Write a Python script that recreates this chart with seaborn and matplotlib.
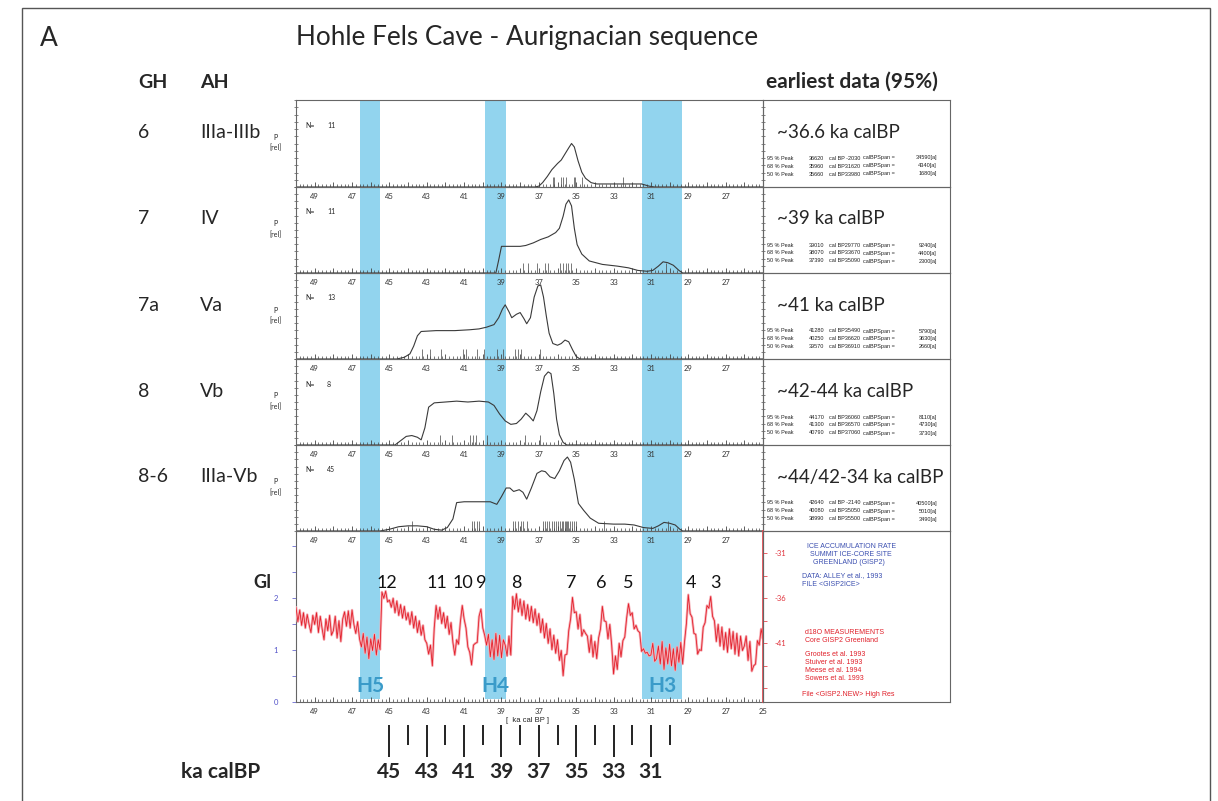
import numpy as np
import matplotlib
matplotlib.use('Agg')
import matplotlib.pyplot as plt
import seaborn as sns
from matplotlib.ticker import MultipleLocator
from matplotlib.patches import Rectangle

sns.set_theme(style='white')
plt.rcParams['font.family'] = ['Lato', 'DejaVu Sans']

W, H = 1218, 801

# ---------------------------------------------------------
# data
# ---------------------------------------------------------
gh_labels = ['6', '7', '7a', '8', '8-6']
ah_labels = ['IIIa-IIIb', 'IV', 'Va', 'Vb', 'IIIa-Vb']
earliest_labels = ['~36.6 ka calBP', '~39 ka calBP', '~41 ka calBP',
                   '~42-44 ka calBP', '~44/42-34 ka calBP']
n_dates = [11, 11, 13, 8, 45]

peak_levels = ['95 % Peak', '68 % Peak', '50 % Peak']
peak_from = [['36620', '35960', '35660'], ['39010', '38070', '37390'],
             ['41280', '40250', '39570'], ['44170', '41300', '40790'],
             ['42640', '40080', '38990']]
peak_to = [['cal BP -2030', 'cal BP31620', 'cal BP33980'],
           ['cal BP29770', 'cal BP33670', 'cal BP35090'],
           ['cal BP35490', 'cal BP36620', 'cal BP36910'],
           ['cal BP36060', 'cal BP36570', 'cal BP37060'],
           ['cal BP -2140', 'cal BP35050', 'cal BP35500']]
peak_span = [['34590[a]', '4340[a]', '1680[a]'], ['9240[a]', '4400[a]', '2300[a]'],
             ['5790[a]', '3630[a]', '2660[a]'], ['8110[a]', '4730[a]', '3730[a]'],
             ['40500[a]', '5010[a]', '3490[a]']]

# summed probability curves (ka calBP, relative P)
p1_ka = [50.0, 37.2, 37.0, 36.8, 36.55, 36.3, 36.0, 35.8, 35.6, 35.4, 35.25, 35.1,
         34.9, 34.7, 34.5, 34.2, 33.9, 31.5, 31.1, 30.8, 25.0]
p1_p = [0.0, 0.0, 0.01, 0.05, 0.12, 0.2, 0.27, 0.31, 0.38, 0.45, 0.5, 0.46,
        0.3, 0.17, 0.1, 0.05, 0.035, 0.035, 0.01, 0.0, 0.0]

p2_ka = [50.0, 39.3, 39.15, 39.0, 38.5, 38.0, 37.7, 37.3, 36.9, 36.5, 36.1, 35.9, 35.7,
         35.55, 35.4, 35.25, 35.1, 34.95, 34.7, 34.3, 33.6, 32.8, 32.2, 31.7, 31.2,
         30.9, 30.6, 30.35, 30.1, 29.8, 29.5, 29.3, 25.0]
p2_p = [0.0, 0.0, 0.15, 0.31, 0.31, 0.31, 0.32, 0.35, 0.39, 0.42, 0.47, 0.52, 0.66,
        0.8, 0.85, 0.78, 0.52, 0.33, 0.22, 0.14, 0.1, 0.08, 0.06, 0.03, 0.02,
        0.03, 0.08, 0.13, 0.12, 0.09, 0.03, 0.0, 0.0]

p3_ka = [50.0, 44.6, 44.2, 43.9, 43.7, 43.5, 43.3, 42.5, 41.5, 40.7, 40.2, 39.8, 39.4,
         39.15, 38.95, 38.8, 38.6, 38.45, 38.2, 38.0, 37.8, 37.65, 37.45, 37.25, 37.05,
         36.9, 36.75, 36.6, 36.45, 36.25, 36.0, 35.8, 35.6, 35.4, 35.2, 35.0, 34.8, 25.0]
p3_p = [0.0, 0.0, 0.02, 0.06, 0.15, 0.27, 0.32, 0.33, 0.33, 0.34, 0.35, 0.37, 0.4,
        0.48, 0.58, 0.63, 0.55, 0.48, 0.52, 0.54, 0.47, 0.41, 0.48, 0.72, 0.85,
        0.86, 0.72, 0.5, 0.3, 0.18, 0.16, 0.18, 0.22, 0.2, 0.11, 0.03, 0.0, 0.0]

p4_ka = [50.0, 44.7, 44.4, 44.1, 43.8, 43.5, 43.3, 43.1, 42.9, 42.6, 42.0, 41.4, 40.8,
         40.2, 39.7, 39.4, 39.1, 38.8, 38.5, 38.2, 37.95, 37.7, 37.5, 37.3, 37.1, 36.9,
         36.7, 36.5, 36.35, 36.2, 36.05, 35.9, 35.7, 35.5, 25.0]
p4_p = [0.0, 0.0, 0.05, 0.1, 0.11, 0.09, 0.06, 0.2, 0.44, 0.49, 0.5, 0.51, 0.5,
        0.51, 0.5, 0.46, 0.36, 0.28, 0.24, 0.25, 0.3, 0.37, 0.33, 0.28, 0.4, 0.62,
        0.8, 0.85, 0.83, 0.6, 0.3, 0.12, 0.03, 0.0, 0.0]

p5_ka = [50.0, 46.0, 45.5, 45.0, 44.5, 44.0, 43.5, 43.0, 42.6, 42.2, 41.9, 41.6, 41.4,
         41.0, 40.5, 40.0, 39.6, 39.25, 39.0, 38.75, 38.55, 38.35, 38.05, 37.85, 37.65,
         37.4, 37.1, 36.85, 36.65, 36.4, 36.15, 35.9, 35.65, 35.47, 35.3, 35.1, 34.88,
         34.6, 34.25, 33.8, 33.0, 32.4, 31.9, 31.4, 30.9, 30.6, 30.3, 30.0, 29.7,
         29.45, 29.3, 25.0]
p5_p = [0.0, 0.0, 0.0, 0.02, 0.05, 0.06, 0.06, 0.05, 0.02, 0.01, 0.04, 0.14, 0.33,
        0.34, 0.34, 0.34, 0.34, 0.31, 0.4, 0.5, 0.5, 0.46, 0.48, 0.45, 0.37,
        0.5, 0.67, 0.7, 0.69, 0.63, 0.61, 0.7, 0.82, 0.86, 0.8, 0.6, 0.32,
        0.24, 0.15, 0.09, 0.08, 0.08, 0.07, 0.04, 0.03, 0.06, 0.1, 0.09, 0.07,
        0.02, 0.0, 0.0]

# individual dates (tick marks on the axis)
d1 = [36.25, 36.18, 35.82, 35.71, 35.57, 35.14, 35.07, 34.7, 32.52]
d2 = [37.85, 37.6, 37.1, 36.65, 36.5, 35.85, 35.7, 35.55, 35.45, 35.3, 30.2]
d3 = [43.25, 42.82, 42.23, 41.06, 40.9, 40.31, 39.93, 39.23, 38.91, 38.27, 38.1, 37.95, 36.93]
d4 = [42.3, 41.64, 40.68, 40.52, 40.36, 39.77, 37.73, 36.93]
d5 = [43.8, 40.6, 40.47, 40.33, 40.2, 38.38, 38.25, 38.1, 37.98, 37.86, 37.63,
      36.77, 36.65, 36.55, 36.43, 36.32, 36.2, 36.1, 35.98, 35.86, 35.76, 35.68,
      35.62, 35.56, 35.5, 35.44, 35.35, 35.25, 35.12, 35.0, 33.5, 30.07]

curves_ka = [p1_ka, p2_ka, p3_ka, p4_ka, p5_ka]
curves_p = [p1_p, p2_p, p3_p, p4_p, p5_p]
dates = [d1, d2, d3, d4, d5]

# Heinrich events
heinrich = ['H5', 'H4', 'H3']
h_start = [46.57, 39.88, 31.47]
h_end = [45.5, 38.75, 29.33]

# Greenland interstadials
gi_labels = ['12', '11', '10', '9', '8', '7', '6', '5', '4', '3']
gi_pos = [45.14, 42.46, 41.07, 40.09, 38.21, 35.29, 33.68, 32.23, 28.86, 27.55]

# GISP2 d18O, 0.1 ka steps from 50.0 to 25.0 ka
d18o = [
    -37.0, -38.6, -37.3, -39.0, -37.6, -39.3, -37.8, -38.9, -39.8, -37.9,
    -38.9, -37.6, -39.8, -38.0, -39.4, -40.6, -38.3, -39.6, -37.9, -40.1,
    -39.6, -38.0, -40.4, -38.5, -40.8, -38.3, -37.5, -39.1, -37.4, -39.3,
    -37.3, -38.9, -39.9, -38.6, -40.5, -41.4, -39.9, -42.1, -40.3, -42.7,
    -40.5, -41.8, -40.0, -42.3, -40.6, -41.7, -35.3, -36.0, -35.2, -36.4,
    -36.2, -37.0, -36.0, -37.6, -36.3, -37.9, -36.7, -38.2, -36.9, -38.4,
    -37.6, -38.9, -37.5, -39.3, -38.0, -39.8, -38.5, -40.1, -39.0, -40.6,
    -41.0, -42.2, -41.2, -43.5, -39.3, -36.8, -38.3, -37.0, -38.8, -37.6,
    -39.3, -38.0, -40.0, -38.7, -40.9, -42.3, -40.6, -41.1, -38.6, -36.8,
    -38.3, -39.3, -41.4, -42.0, -43.4, -41.2, -41.0, -40.9, -38.0, -37.2,
    -39.3, -40.1, -41.2, -40.0, -42.5, -40.6, -42.8, -39.9, -42.4, -40.1,
    -42.6, -40.6, -41.2, -42.4, -40.2, -42.3, -35.8, -37.2, -35.5, -37.5,
    -36.1, -37.9, -36.3, -38.3, -36.7, -38.5, -36.9, -38.7, -37.2, -39.0,
    -37.7, -39.8, -38.3, -40.4, -38.8, -41.0, -39.4, -41.7, -40.1, -42.1,
    -40.6, -42.9, -41.8, -44.6, -42.3, -42.2, -39.6, -38.3, -35.9, -37.6,
    -37.5, -39.4, -37.8, -40.2, -39.5, -39.9, -40.2, -42.0, -40.1, -42.5,
    -40.8, -42.7, -40.4, -39.4, -36.9, -38.5, -38.6, -40.5, -38.9, -41.2,
    -44.4, -42.4, -43.9, -41.0, -42.5, -40.7, -40.3, -38.2, -36.6, -37.9,
    -37.6, -39.4, -39.0, -39.6, -39.8, -41.9, -41.6, -42.1, -42.0, -42.4,
    -42.3, -41.0, -43.0, -42.7, -41.3, -43.3, -40.8, -43.9, -41.5, -43.3,
    -41.1, -43.5, -41.6, -44.0, -41.4, -43.1, -40.9, -43.3, -40.8, -38.8,
    -35.6, -37.7, -38.1, -39.9, -40.0, -42.2, -41.7, -41.8, -39.2, -38.7,
    -36.8, -37.1, -35.8, -38.0, -38.5, -40.8, -38.9, -41.3, -39.2, -41.7,
    -39.8, -42.0, -39.4, -41.6, -39.7, -42.2, -39.9, -42.4, -40.2, -41.8,
    -41.3, -40.2, -42.9, -40.8, -44.1, -43.5, -43.3, -40.7, -41.2, -39.4,
    -40.5]
d18o_ka = np.linspace(50.0, 25.0, len(d18o))

bottom_long = [45, 43, 41, 39, 37, 35, 33, 31]
bottom_short = [44, 42, 40, 38, 36, 34, 32, 30]

band_color = '#92d4ee'
h_color = '#3a9bc9'
line_color = '#3a3a3a'
spine_color = '#666666'

fig = plt.figure(figsize=(W / 100, H / 100), dpi=100)


def px_axes(x0, y0, x1, y1):
    return fig.add_axes([x0 / W, 1 - y1 / H, (x1 - x0) / W, (y1 - y0) / H])


def ftext(x, y, s, **kw):
    kw.setdefault('va', 'center')
    fig.text(x / W, 1 - y / H, s, **kw)


def style_time_axis(ax, last_label):
    ax.set_xlim(50, 25)
    ticks = np.arange(25, 51)
    labels = [str(k) if (k % 2 == 1 and (k >= 27 or last_label)) else '' for k in ticks]
    ax.set_xticks(ticks)
    ax.set_xticklabels(labels)
    ax.xaxis.set_minor_locator(MultipleLocator(0.2))
    ax.tick_params(axis='x', which='major', bottom=True, direction='in', length=3.5,
                   width=0.6, color='#444', labelsize=5.5, labelcolor='#333', pad=4)
    ax.tick_params(axis='x', which='minor', bottom=True, direction='in', length=2,
                   width=0.5, color='#444')
    for sp in ax.spines.values():
        sp.set_color(spine_color)
        sp.set_linewidth(0.8)
    ax.set_xlabel('')
    ax.set_ylabel('')


# outer frame
fig.add_artist(Rectangle((22 / W, -0.02), 1188 / W, 1 - 8 / H + 0.02,
                         transform=fig.transFigure, fill=False, ec='#555', lw=1))

# header
ftext(40, 38, 'A', fontsize=19)
ftext(296, 38, 'Hohle Fels Cave - Aurignacian sequence', fontsize=18.8)
ftext(138, 82, 'GH', fontsize=14, fontweight='bold')
ftext(200, 82, 'AH', fontsize=14, fontweight='bold')
ftext(766, 82, 'earliest data (95%)', fontsize=15, fontweight='bold')

# Heinrich bands behind the whole column
bg = px_axes(296, 100, 763, 699)
bg.set_xlim(50, 25)
bg.axis('off')
for s, e in zip(h_start, h_end):
    bg.axvspan(s, e, color=band_color, lw=0)

tops = [100, 187, 273, 359, 445]
bottoms = [187, 273, 359, 445, 531]
stat = dict(fontsize=4.0, family='Liberation Sans', color='#222')

for i in range(5):
    top, bot = tops[i], bottoms[i]
    ax = px_axes(296, top, 763, bot)
    ax.set_facecolor('none')
    sns.lineplot(x=curves_ka[i], y=curves_p[i], ax=ax, color=line_color,
                 linewidth=0.8, sort=False, estimator=None)
    ax.vlines(dates[i], 0, 0.12, color='#444', lw=0.5)
    ax.set_ylim(0, 1)
    style_time_axis(ax, False)
    ax.set_yticks(np.linspace(0, 1, 13))
    ax.set_yticklabels([])
    ax.tick_params(axis='y', left=True, right=True, direction='inout', length=3,
                   width=0.5, color='#555')

    ftext(305, top + 25, 'N=', fontsize=5)
    ftext(327, top + 25, str(n_dates[i]), fontsize=5)
    ftext(276, top + 37, 'P', fontsize=5, ha='center')
    ftext(276, top + 48, '[rel]', fontsize=5, ha='center')

    box = px_axes(763, top, 950, bot)
    box.set_facecolor('none')
    box.set_xticks([])
    box.set_yticks([])
    for sp in box.spines.values():
        sp.set_color(spine_color)
        sp.set_linewidth(0.8)

    ftext(138, top + 32, gh_labels[i], fontsize=14)
    ftext(200, top + 32, ah_labels[i], fontsize=14)
    ftext(777, top + 32, earliest_labels[i], fontsize=13.5)
    for j in range(3):
        yy = top + 58 + 8 * j
        ftext(767, yy, peak_levels[j], **stat)
        ftext(809, yy, peak_from[i][j], **stat)
        ftext(829, yy, peak_to[i][j], **stat)
        ftext(863, yy, 'calBPSpan =', **stat)
        ftext(937, yy, peak_span[i][j], ha='right', **stat)

# ---------------------------------------------------------
# GISP2 panel
# ---------------------------------------------------------
ax = px_axes(296, 531, 763, 702)
ax.set_facecolor('none')
ax.set_ylim(0, 3.29)
style_time_axis(ax, True)
ax.set_yticks([0, 0.5, 1, 1.5, 2, 2.5, 3])
ax.set_yticklabels(['0', '', '1', '', '2', '', ''])
ax.tick_params(axis='y', left=True, direction='out', length=3, width=0.6,
               color='#6a6ad0', labelcolor='#5050c8', labelsize=5.5, pad=10)
for name, s, e in zip(heinrich, h_start, h_end):
    ax.text((s + e) / 2, 0.31, name, color=h_color, fontsize=15, fontweight='bold',
            ha='center', va='center')
for lab, pos in zip(gi_labels, gi_pos):
    ax.text(pos, 2.29, lab, fontsize=13, ha='center', va='center', color='#111')

ax2 = ax.twinx()
sns.lineplot(x=d18o_ka, y=d18o, ax=ax2, color='#f6b0b7', linewidth=1.8,
             sort=False, estimator=None)
sns.lineplot(x=d18o_ka, y=d18o, ax=ax2, color='#e3202b', linewidth=0.6,
             sort=False, estimator=None)
ax2.set_xlim(50, 25)
ax2.set_ylim(-47.52, -28.52)
ax2.set_yticks([-31, -33.5, -36, -38.5, -41, -43.5, -46])
ax2.set_yticklabels(['-31', '', '-36', '', '-41', '', ''])
ax2.tick_params(axis='y', right=True, direction='out', length=3, width=0.6,
                color='#e84a50', labelcolor='#e0303a', labelsize=5.5, pad=5)
ax2.set_ylabel('')
ax2.spines['right'].set_color('#e84a50')
for k in ['left', 'top', 'bottom']:
    ax2.spines[k].set_visible(False)

box = px_axes(763, 531, 950, 702)
box.set_facecolor('none')
box.set_xticks([])
box.set_yticks([])
for sp in box.spines.values():
    sp.set_color(spine_color)
    sp.set_linewidth(0.8)

blue_txt = '#3b4fb0'
red_txt = '#e0202a'
small = dict(fontsize=5, family='Liberation Sans')
ftext(807, 546, 'ICE ACCUMULATION RATE', color=blue_txt, **small)
ftext(810, 554, 'SUMMIT ICE-CORE SITE', color=blue_txt, **small)
ftext(813, 562, 'GREENLAND (GISP2)', color=blue_txt, **small)
ftext(802, 576, 'DATA: ALLEY et al., 1993', color=blue_txt, **small)
ftext(802, 584, 'FILE <GISP2ICE>', color=blue_txt, **small)
ftext(805, 632, 'd18O MEASUREMENTS', color=red_txt, **small)
ftext(805, 640, 'Core GISP2 Greenland', color=red_txt, **small)
ftext(805, 655, 'Grootes et al. 1993', color=red_txt, **small)
ftext(805, 663, 'Stuiver et al. 1993', color=red_txt, **small)
ftext(805, 671, 'Meese et al. 1994', color=red_txt, **small)
ftext(805, 679, 'Sowers et al. 1993', color=red_txt, **small)
ftext(802, 694, 'File <GISP2.NEW> High Res', color=red_txt, **small)

ftext(253, 583, 'GI', fontsize=13, fontweight='bold')
ftext(527, 720, '[  ka cal BP ]', fontsize=5.5, ha='center', family='Liberation Sans')

# ---------------------------------------------------------
# ka calBP scale below
# ---------------------------------------------------------
axb = px_axes(296, 722, 763, 795)
axb.set_xlim(50, 25)
axb.set_ylim(73, 0)
axb.axis('off')
axb.vlines(bottom_long, 3, 35, color='#111', lw=1.3)
axb.vlines(bottom_short, 3, 23, color='#111', lw=1.3)
for k in bottom_long:
    axb.text(k, 50, str(k), fontsize=15, fontweight='bold', ha='center', va='center')
ftext(181, 772, 'ka calBP', fontsize=15, fontweight='bold')

fig.savefig('out.png', dpi=100)
